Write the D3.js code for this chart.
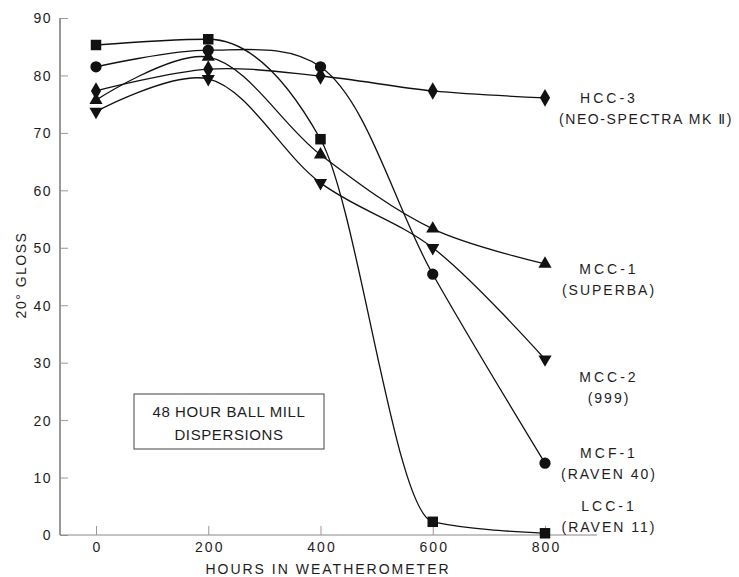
<!DOCTYPE html>
<html>
<head>
<meta charset="utf-8">
<script src="https://cdn.jsdelivr.net/npm/d3@7"></script>
<style>
  body { margin: 0; background: #fff; }
  text { font-family: "Liberation Sans", "DejaVu Sans", sans-serif; fill: #1e1e1e; }
</style>
</head>
<body>
<svg id="chart" width="739" height="577"></svg>
<script>
// hours in weatherometer
var hours = [0, 200, 400, 600, 800];
var yTicks = [0, 10, 20, 30, 40, 50, 60, 70, 80, 90];

// 20 deg gloss per series
var hcc3 = [77.3, 81.1, 79.9, 77.3, 76.1];
var mcc1 = [75.7, 83.2, 66.2, 53.3, 47.2];
var mcc2 = [73.7, 79.4, 61.3, 50.0, 30.6];
var mcf1 = [81.5, 84.4, 81.5, 45.4, 12.5];
var lcc1 = [85.3, 86.3, 68.9, 2.3, 0.3];

var seriesNames = ['HCC-3', 'MCC-1', 'MCC-2', 'MCF-1', 'LCC-1'];
var seriesSubs = ['(NEO-SPECTRA MK \u2161)', '(SUPERBA)', '(999)', '(RAVEN 40)', '(RAVEN 11)'];
var seriesSymbols = ['diamond', 'triUp', 'triDown', 'circle', 'square'];
var seriesValues = [hcc3, mcc1, mcc2, mcf1, lcc1];
var boxLines = ['48 HOUR BALL MILL', 'DISPERSIONS'];

var svg = d3.select('#chart');
var x = d3.scaleLinear().domain([0, 800]).range([96, 545]);
var y = d3.scaleLinear().domain([0, 90]).range([535, 18]);

// axes, old-style drafted
var yAxis = d3.axisLeft(y).tickValues(yTicks).tickSize(-8).tickPadding(14);
var gy = svg.append('g').attr('transform', 'translate(60,0)').call(yAxis);
gy.select('.domain').attr('d', 'M0,' + y(90) + 'V' + y(0)).attr('stroke', '#333');
gy.selectAll('.tick line').attr('stroke', '#999');
gy.selectAll('.tick text').attr('font-size', 14).attr('letter-spacing', 1.5)
  .attr('dy', '0.35em').attr('x', -8);

var xAxis = d3.axisBottom(x).tickValues(hours).tickSize(-9).tickPadding(7);
var gx = svg.append('g').attr('transform', 'translate(0,535)').call(xAxis);
gx.select('.domain').attr('d', 'M60,0H597').attr('stroke', '#888');
gx.selectAll('.tick line').attr('stroke', '#999');
gx.selectAll('.tick text').attr('font-size', 14).attr('letter-spacing', 2).attr('dx', 1);

svg.append('text').attr('x', 328).attr('y', 574).attr('text-anchor', 'middle')
  .attr('font-size', 14).attr('letter-spacing', 2).text('HOURS IN WEATHEROMETER');
svg.append('text').attr('transform', 'translate(26,275) rotate(-90)')
  .attr('text-anchor', 'middle').attr('font-size', 14).attr('letter-spacing', 1.5).text('20\u00b0 GLOSS');

// curves: LCC-1 drops to zero and must not dip below it
var smooth = d3.line()
  .x(function(d){ return x(d[0]); })
  .y(function(d){ return y(d[1]); })
  .curve(d3.curveCatmullRom.alpha(0.5));
var mono = d3.line()
  .x(function(d){ return x(d[0]); })
  .y(function(d){ return y(d[1]); })
  .curve(d3.curveMonotoneX);

var sym = {
  diamond: d3.symbol().type(d3.symbolDiamond).size(90),
  triUp: d3.symbol().type(d3.symbolTriangle).size(75),
  circle: d3.symbol().type(d3.symbolCircle).size(100),
  square: d3.symbol().type(d3.symbolSquare).size(110)
};

seriesValues.forEach(function(vals, i){
  var pts = hours.map(function(h, j){ return [h, vals[j]]; });
  var g = svg.append('g').attr('class', 'series');
  var line = seriesNames[i] == 'LCC-1' ? mono : smooth;
  g.append('path').attr('d', line(pts)).attr('fill', 'none')
    .attr('stroke', '#111').attr('stroke-width', 1.3);
  var kind = seriesSymbols[i];
  g.selectAll('path.mark').data(pts).enter().append('path')
    .attr('class', 'mark')
    .attr('d', kind == 'triDown' ? sym.triUp() : sym[kind]())
    .attr('transform', function(d){
      var t = 'translate(' + x(d[0]) + ',' + y(d[1]) + ')';
      return kind == 'triDown' ? t + ' rotate(180)' : t;
    })
    .attr('fill', '#111');
});

// series labels
var labelY = [103, 274, 382, 458, 511];
seriesNames.forEach(function(name, i){
  svg.append('text').attr('x', 609).attr('y', labelY[i]).attr('text-anchor', 'middle')
    .attr('font-size', 14).attr('letter-spacing', 3).text(name);
  svg.append('text').attr('x', i == 0 ? 646 : 609).attr('y', labelY[i] + 21).attr('text-anchor', 'middle')
    .attr('font-size', 14).attr('letter-spacing', i == 0 ? 1.6 : 2).text(seriesSubs[i]);
});

// annotation box
svg.append('rect').attr('x', 134).attr('y', 394).attr('width', 190).attr('height', 55)
  .attr('fill', 'none').attr('stroke', '#444').attr('stroke-width', 1);
boxLines.forEach(function(t, i){
  svg.append('text').attr('x', 229).attr('y', 417 + i * 23).attr('text-anchor', 'middle')
    .attr('font-size', 15).attr('letter-spacing', 0.6).text(t);
});
</script>
</body>
</html>
